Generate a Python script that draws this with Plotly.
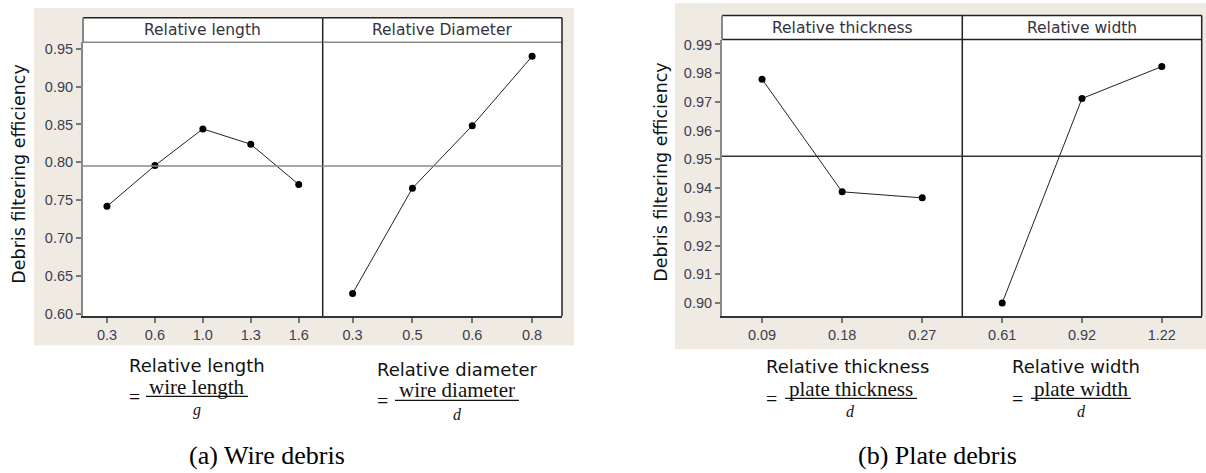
import plotly.graph_objects as go
import numpy as np

# ---------------- data ----------------
length_cats = ["0.3", "0.6", "1.0", "1.3", "1.6"]
length_eff = [0.7418, 0.7957, 0.8442, 0.8239, 0.7707]
diam_cats = ["0.3", "0.5", "0.6", "0.8"]
diam_eff = [0.6268, 0.7659, 0.8485, 0.9401]
thick_cats = ["0.09", "0.18", "0.27"]
thick_eff = [0.9779, 0.9387, 0.9366]
width_cats = ["0.61", "0.92", "1.22"]
width_eff = [0.9000, 0.9712, 0.9823]

wire_yticks = [0.60, 0.65, 0.70, 0.75, 0.80, 0.85, 0.90, 0.95]
plate_yticks = [0.90, 0.91, 0.92, 0.93, 0.94, 0.95, 0.96, 0.97, 0.98, 0.99]

panel_titles = ["Relative length", "Relative Diameter", "Relative thickness", "Relative width"]
y_title = "Debris filtering efficiency"

# ---------------- layout helpers ----------------
W, H = 1206, 473
def fx(px):
    return px / W
def fy(py):
    return 1 - py / H

BEIGE = "#EFEBE2"
TICKC = "#3d3d52"
SANS = "DejaVu Sans, Liberation Sans, sans-serif"
ARIAL = "Liberation Sans, Arial, sans-serif"
SERIF = "Liberation Serif, Times New Roman, serif"

fig = go.Figure()

panels = [
    dict(cats=length_cats, vals=length_eff, x0=83, x1=322.7, top=15, sb=40, bot=319,
         yr=[0.5970, 0.9587], yt=wire_yticks, lc="#8a8a8a", ml="#8a8a8a", title=panel_titles[0], showy=True),
    dict(cats=diam_cats, vals=diam_eff, x0=322.7, x1=562, top=15, sb=40, bot=319,
         yr=[0.5970, 0.9587], yt=wire_yticks, lc="#8a8a8a", ml="#8a8a8a", title=panel_titles[1], showy=False),
    dict(cats=thick_cats, vals=thick_eff, x0=722, x1=962.3, top=12.7, sb=37.3, bot=319.3,
         yr=[0.8954, 0.9917], yt=plate_yticks, lc="#222222", ml="#333333", title=panel_titles[2], showy=True),
    dict(cats=width_cats, vals=width_eff, x0=962.3, x1=1201.7, top=12.7, sb=37.3, bot=319.3,
         yr=[0.8954, 0.9917], yt=plate_yticks, lc="#222222", ml="#333333", title=panel_titles[3], showy=False),
]

grand_means = [float(np.mean(length_eff)), float(np.mean(length_eff)),
               float(np.mean(thick_eff + width_eff)), float(np.mean(thick_eff + width_eff))]

shapes = []
annotations = []

# beige backgrounds
shapes.append(dict(type="rect", xref="paper", yref="paper", x0=fx(34), x1=fx(574), y0=fy(349), y1=fy(5),
                   fillcolor=BEIGE, line=dict(width=0), layer="below"))
shapes.append(dict(type="rect", xref="paper", yref="paper", x0=fx(675), x1=fx(1206), y0=fy(353), y1=fy(0),
                   fillcolor=BEIGE, line=dict(width=0), layer="below"))

layout_axes = {}
for i, p in enumerate(panels):
    n = i + 1
    xa = "xaxis" if n == 1 else f"xaxis{n}"
    ya = "yaxis" if n == 1 else f"yaxis{n}"
    xr = "x" if n == 1 else f"x{n}"
    yr = "y" if n == 1 else f"y{n}"
    fig.add_trace(go.Scatter(x=p["cats"], y=p["vals"], mode="lines+markers", xaxis=xr, yaxis=yr,
                             line=dict(color="#222222", width=1),
                             marker=dict(color="#000000", size=7), showlegend=False, hoverinfo="skip"))
    layout_axes[xa] = dict(domain=[fx(p["x0"]), fx(p["x1"])], anchor=yr, type="category",
                           range=[-0.5, len(p["cats"]) - 0.5], showgrid=False, zeroline=False,
                           showline=True, linecolor="#333333", linewidth=1.5,
                           ticks="outside", ticklen=5, tickwidth=1.5, tickcolor="#777777",
                           tickfont=dict(family=ARIAL, size=14.5, color=TICKC), fixedrange=True)
    layout_axes[ya] = dict(domain=[fy(p["bot"]), fy(p["sb"])], anchor=xr, range=p["yr"],
                           tickvals=p["yt"] if p["showy"] else [],
                           ticktext=[f"{v:.2f}" for v in p["yt"]] if p["showy"] else [],
                           showgrid=False, zeroline=False,
                           showline=p["showy"], linecolor="#888888", linewidth=2,
                           ticks="outside" if p["showy"] else "", ticklen=5, tickwidth=1.5, tickcolor="#777777",
                           tickfont=dict(family=ARIAL, size=14.5, color=TICKC), fixedrange=True)
    shapes.append(dict(type="rect", xref="paper", yref="paper", x0=fx(p["x0"]), x1=fx(p["x1"]),
                       y0=fy(p["bot"]), y1=fy(p["top"]), fillcolor="white", line=dict(width=0), layer="below"))
    shapes.append(dict(type="line", xref="paper", yref="paper", x0=fx(p["x0"]), x1=fx(p["x1"]),
                       y0=fy(p["sb"]), y1=fy(p["sb"]), line=dict(color=p["lc"], width=1.5)))
    shapes.append(dict(type="line", xref="paper", yref="paper", x0=fx(p["x0"]), x1=fx(p["x1"]),
                       y0=fy(p["top"]), y1=fy(p["top"]), line=dict(color="#222222", width=1.5)))
    shapes.append(dict(type="line", xref="paper", yref="paper", x0=fx(p["x1"]), x1=fx(p["x1"]),
                       y0=fy(p["bot"]), y1=fy(p["top"]), line=dict(color="#222222", width=1.5)))
    if p["showy"]:
        shapes.append(dict(type="line", xref="paper", yref="paper", x0=fx(p["x0"]), x1=fx(p["x0"]),
                           y0=fy(p["sb"]), y1=fy(p["top"]), line=dict(color="#888888", width=2)))
    shapes.append(dict(type="line", xref=f"{xr} domain", yref=yr, x0=0, x1=1,
                       y0=grand_means[i], y1=grand_means[i], line=dict(color=p["ml"], width=1.5)))
    annotations.append(dict(text=p["title"], xref="paper", yref="paper",
                            x=fx((p["x0"] + p["x1"]) / 2), y=fy((p["top"] + p["sb"]) / 2),
                            showarrow=False, xanchor="center", yanchor="middle",
                            font=dict(family=SANS, size=15.5, color="#333340")))

# y-axis titles
annotations.append(dict(text=y_title, xref="paper", yref="paper", x=fx(19), y=fy(175), textangle=-90,
                        showarrow=False, xanchor="center", yanchor="middle",
                        font=dict(family=SANS, size=17.5, color="#111111")))
annotations.append(dict(text=y_title, xref="paper", yref="paper", x=fx(661), y=fy(173), textangle=-90,
                        showarrow=False, xanchor="center", yanchor="middle",
                        font=dict(family=SANS, size=17.5, color="#111111")))

# definitions below the panels
defs = [
    # label, label_left, label_y, numerator, num_y, bar_x0, bar_x1, bar_y, denom, den_y, eq_x, eq_y
    ("Relative length", 127, 370, "wire length", 391, 146, 248, 401, "g", 415, 127, 402),
    ("Relative diameter", 375, 374, "wire diameter", 395, 395, 519, 405, "d", 419, 375, 406),
    ("Relative thickness", 764, 371, "plate thickness", 393, 785, 917, 403, "d", 416, 764, 404),
    ("Relative width", 1010, 371, "plate width", 393, 1031, 1131, 403, "d", 416, 1010, 404),
]
for lab, lx, ly, num, ny, bx0, bx1, by, den, dy, ex, ey in defs:
    annotations.append(dict(text=lab, xref="paper", yref="paper", x=fx(lx), y=fy(ly), showarrow=False,
                            xanchor="left", yanchor="middle",
                            font=dict(family=SANS, size=18, color="#111111")))
    annotations.append(dict(text=num, xref="paper", yref="paper", x=fx((bx0 + bx1) / 2), y=fy(ny), showarrow=False,
                            xanchor="center", yanchor="middle",
                            font=dict(family=SERIF, size=21, color="#111111")))
    annotations.append(dict(text=f"<i>{den}</i>", xref="paper", yref="paper", x=fx((bx0 + bx1) / 2), y=fy(dy),
                            showarrow=False, xanchor="center", yanchor="middle",
                            font=dict(family=SERIF, size=16, color="#111111")))
    annotations.append(dict(text="=", xref="paper", yref="paper", x=fx(ex), y=fy(ey), showarrow=False,
                            xanchor="left", yanchor="middle",
                            font=dict(family=SERIF, size=20, color="#111111")))
    shapes.append(dict(type="line", xref="paper", yref="paper", x0=fx(bx0), x1=fx(bx1), y0=fy(by), y1=fy(by),
                       line=dict(color="#111111", width=1.2)))

# captions
annotations.append(dict(text="(a) Wire debris", xref="paper", yref="paper", x=fx(267), y=fy(461),
                        showarrow=False, xanchor="center", yanchor="middle",
                        font=dict(family=SERIF, size=26, color="#000000")))
annotations.append(dict(text="(b) Plate debris", xref="paper", yref="paper", x=fx(937), y=fy(461),
                        showarrow=False, xanchor="center", yanchor="middle",
                        font=dict(family=SERIF, size=26, color="#000000")))

fig.update_layout(width=W, height=H, margin=dict(l=0, r=0, t=0, b=0),
                  paper_bgcolor="white", plot_bgcolor="rgba(0,0,0,0)",
                  shapes=shapes, annotations=annotations, **layout_axes)

fig.write_html("out.html", config={"displayModeBar": False},
               post_script="document.body.style.margin='0';document.body.style.overflow='hidden';")
